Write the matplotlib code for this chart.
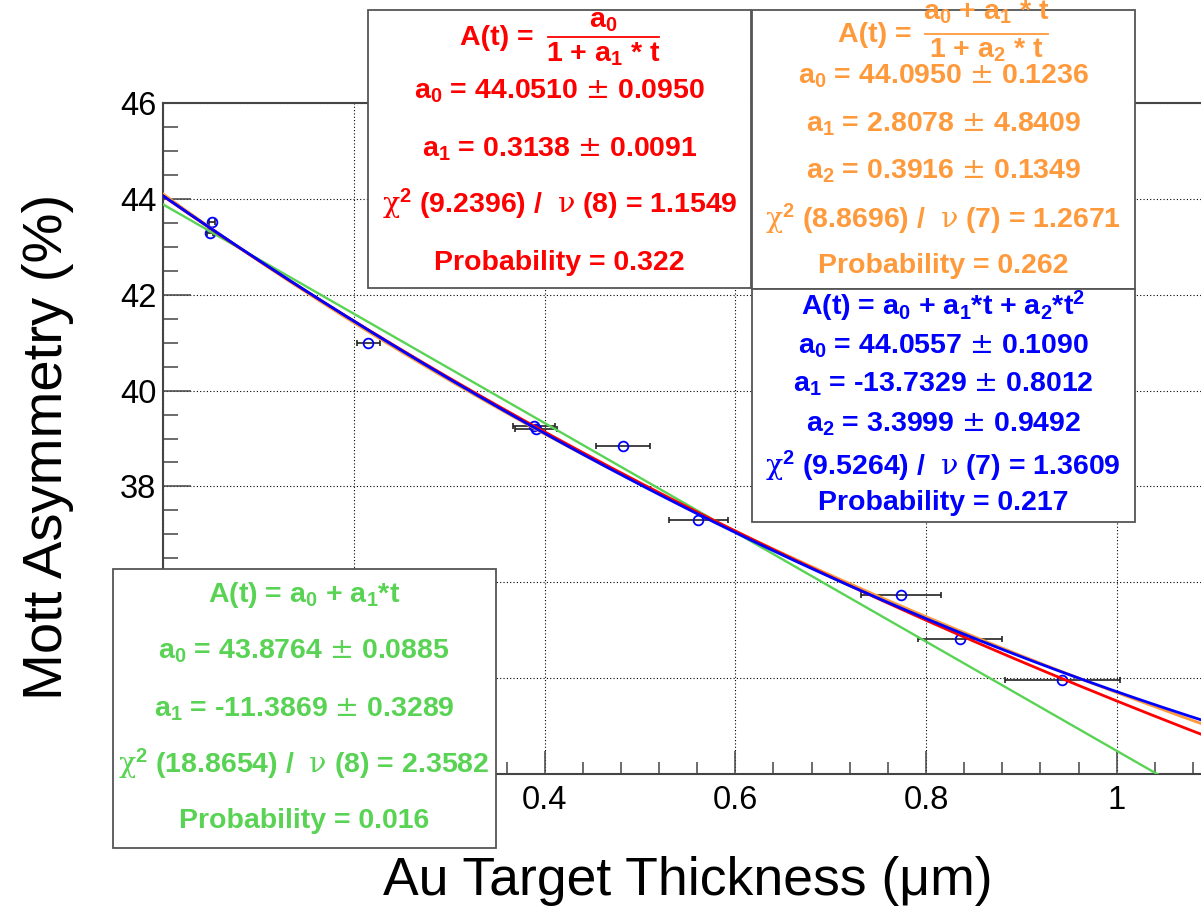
import numpy as np
import matplotlib.pyplot as plt
from matplotlib.patches import Rectangle
from matplotlib.lines import Line2D
from matplotlib.ticker import MultipleLocator, FuncFormatter

plt.rcParams['font.family'] = ['Liberation Sans', 'DejaVu Sans']
plt.rcParams['mathtext.fontset'] = 'custom'
plt.rcParams['mathtext.rm'] = 'Liberation Sans:bold'
plt.rcParams['mathtext.it'] = 'Liberation Sans:bold'
plt.rcParams['mathtext.bf'] = 'Liberation Sans:bold'
plt.rcParams['mathtext.cal'] = 'DejaVu Serif'

# measured Mott asymmetry vs Au foil thickness
thickness = np.array([0.051, 0.049, 0.215, 0.389, 0.391, 0.482, 0.561, 0.774, 0.836, 0.943])
asym = np.array([43.52, 43.28, 40.99, 39.27, 39.20, 38.85, 37.31, 35.74, 34.82, 33.96])
thickness_err = np.array([0.003, 0.003, 0.012, 0.022, 0.022, 0.028, 0.031, 0.042, 0.044, 0.060])

# fit results
lin_par = [43.8764, -11.3869]
quad_par = [44.0557, -13.7329, 3.3999]
rat1_par = [44.0510, 0.3138]
rat2_par = [44.0950, 2.8078, 0.3916]

x_ticks = [0, 0.2, 0.4, 0.6, 0.8, 1.0]
y_ticks = [32, 34, 36, 38, 40, 42, 44, 46]
# labels that sit under the linear-fit box
hidden_x = [0, 0.2]
hidden_y = [32, 34, 36]

RED = '#ff0000'
ORANGE = '#ff9a3c'
BLUE = '#0000ff'
GREEN = '#59d354'

W, H = 1201, 906
FS = 20.5


def fx(x):
    return x / W


def fy(y):
    return 1 - y / H


fig = plt.figure(figsize=(W / 100, H / 100), dpi=100)
ax = fig.add_axes([fx(163.3), fy(774.3), (1212 - 163.3) / W, (774.3 - 102.7) / H])

ax.set_xlim(0, 1.1)
ax.set_ylim(32, 46)
ax.set_xticks(x_ticks)
ax.set_yticks(y_ticks)
ax.xaxis.set_minor_locator(MultipleLocator(0.04))
ax.yaxis.set_minor_locator(MultipleLocator(0.5))
ax.xaxis.set_major_formatter(FuncFormatter(
    lambda v, p: '' if any(abs(v - h) < 1e-6 for h in hidden_x) else f"{v:g}"))
ax.yaxis.set_major_formatter(FuncFormatter(
    lambda v, p: '' if any(abs(v - h) < 1e-6 for h in hidden_y) else f"{v:g}"))

ax.tick_params(which='both', direction='in', top=False, right=False,
               color='#444444', width=1.1, labelsize=23.5)
ax.tick_params(axis='x', which='major', length=16.3, pad=8)
ax.tick_params(axis='x', which='minor', length=8.6)
ax.tick_params(axis='y', which='major', length=20, pad=5)
ax.tick_params(axis='y', which='minor', length=10.8)
for sp in ax.spines.values():
    sp.set_color('#444444')
    sp.set_linewidth(1.5)

ax.set_axisbelow(True)
ax.grid(True, which='major', color='black', lw=0.8, ls=(0, (1, 2)))

ax.errorbar(thickness, asym, xerr=thickness_err, fmt='none', ecolor='#222222',
            elinewidth=1.2, capsize=2.5, capthick=1.2, zorder=2)
ax.plot(thickness, asym, 'o', ms=7, mfc='none', mec=BLUE, mew=1.3, zorder=3)

t = np.linspace(0, 1.1, 400)
ax.plot(t, lin_par[0] + lin_par[1] * t, color=GREEN, lw=1.7, zorder=4)
ax.plot(t, (rat2_par[0] + rat2_par[1] * t) / (1 + rat2_par[2] * t), color=ORANGE, lw=2, zorder=4)
ax.plot(t, rat1_par[0] / (1 + rat1_par[1] * t), color=RED, lw=2, zorder=4)
ax.plot(t, quad_par[0] + quad_par[1] * t + quad_par[2] * t ** 2, color=BLUE, lw=2, zorder=4)

PM = r"$\mathcal{\pm}$"
CHI = r"$\mathcal{\chi}^{2}$"
NU = r"$\mathcal{\nu}$"


def label(x, y, s, color, ha='center'):
    fig.text(fx(x), fy(y), s, ha=ha, va='baseline', color=color,
             fontsize=FS, fontweight='bold', zorder=6)


def fraction(x_lhs, y_lhs, num, den, x0, x1, y_bar, y_num, y_den, color):
    label(x_lhs, y_lhs, "A(t) =", color, ha='left')
    fig.add_artist(Line2D([fx(x0), fx(x1)], [fy(y_bar), fy(y_bar)], color=color,
                          lw=1.3, transform=fig.transFigure, zorder=6))
    label((x0 + x1) / 2, y_num, num, color)
    label((x0 + x1) / 2, y_den, den, color)


boxes = [
    dict(rect=(368.3, 10, 751, 288.3), color=RED, lines=[
        (98.3, f"a$_0$ = {rat1_par[0]:.4f} {PM} 0.0950"),
        (156.7, f"a$_1$ = {rat1_par[1]:.4f} {PM} 0.0091"),
        (213.3, f"{CHI} (9.2396) /  {NU} (8) = 1.1549"),
        (270, "Probability = 0.322"),
    ]),
    dict(rect=(751.7, 10, 1135, 289), color=ORANGE, lines=[
        (83.3, f"a$_0$ = {rat2_par[0]:.4f} {PM} 0.1236"),
        (131.7, f"a$_1$ = {rat2_par[1]:.4f} {PM} 4.8409"),
        (178.3, f"a$_2$ = {rat2_par[2]:.4f} {PM} 0.1349"),
        (228.3, f"{CHI} (8.8696) /  {NU} (7) = 1.2671"),
        (273.3, "Probability = 0.262"),
    ]),
    dict(rect=(751.7, 289, 1135, 522.3), color=BLUE, lines=[
        (315, "A(t) = a$_0$ + a$_1$*t + a$_2$*t$^2$"),
        (354, f"a$_0$ = {quad_par[0]:.4f} {PM} 0.1090"),
        (391.7, f"a$_1$ = {quad_par[1]:.4f} {PM} 0.8012"),
        (431.7, f"a$_2$ = {quad_par[2]:.4f} {PM} 0.9492"),
        (475, f"{CHI} (9.5264) /  {NU} (7) = 1.3609"),
        (510, "Probability = 0.217"),
    ]),
    dict(rect=(112.5, 569, 496, 848.3), color=GREEN, lines=[
        (601.7, "A(t) = a$_0$ + a$_1$*t"),
        (658.3, f"a$_0$ = {lin_par[0]:.4f} {PM} 0.0885"),
        (716.7, f"a$_1$ = {lin_par[1]:.4f} {PM} 0.3289"),
        (773.3, f"{CHI} (18.8654) /  {NU} (8) = 2.3582"),
        (828.3, "Probability = 0.016"),
    ]),
]

for b in boxes:
    x0, y0, x1, y1 = b['rect']
    fig.add_artist(Rectangle((fx(x0), fy(y1)), fx(x1) - fx(x0), fy(y0) - fy(y1),
                             transform=fig.transFigure, facecolor='white',
                             edgecolor='#555555', lw=1.3, zorder=5))
    for base, s in b['lines']:
        label((x0 + x1) / 2, base, s, b['color'])

# rational-function formulas
fraction(460, 45, "a$_0$", "1 + a$_1$ * t", 548, 659, 36.5, 27, 62, RED)
fraction(838, 41.7, "a$_0$ + a$_1$ * t", "1 + a$_2$ * t", 925, 1048, 34, 20, 58, ORANGE)

fig.text(fx(688), fy(895), "Au Target Thickness (μm)", ha='center', va='baseline',
         fontsize=38.5)
fig.text(fx(62), fy(447), "Mott Asymmetry (%)", rotation=90, rotation_mode='anchor',
         ha='center', va='baseline', fontsize=40.5)

fig.savefig('out.png', dpi=100)
